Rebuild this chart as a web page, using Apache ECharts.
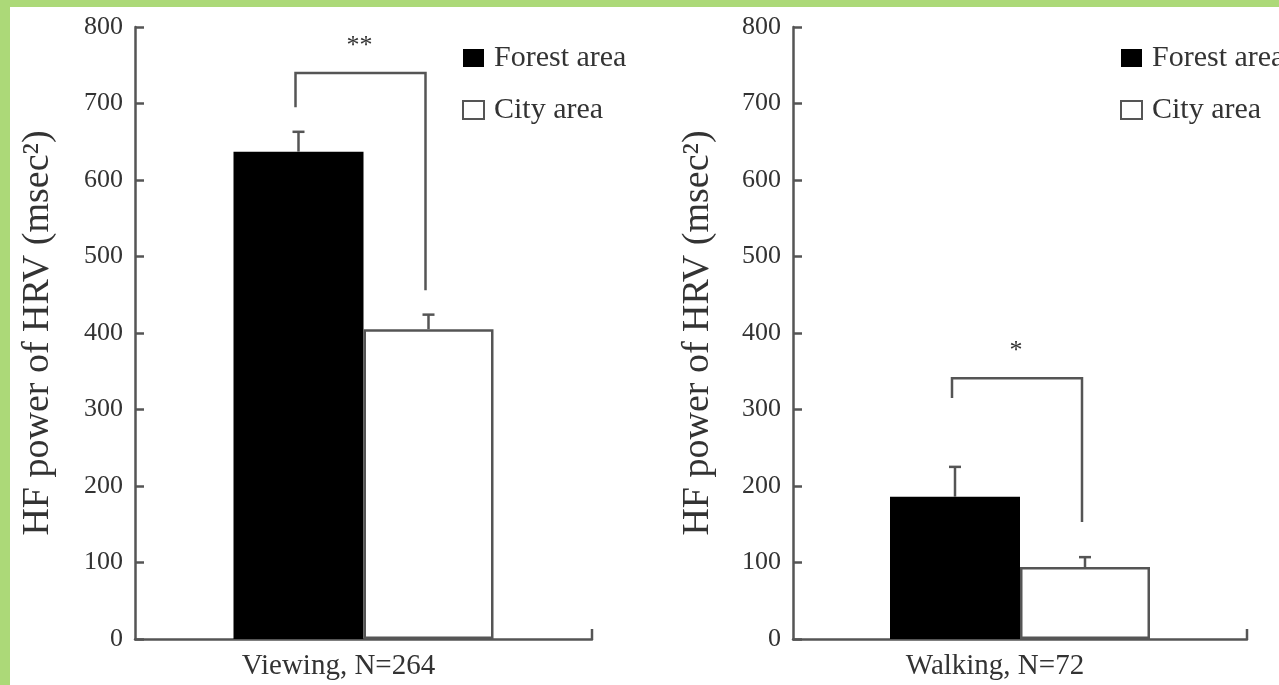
<!DOCTYPE html>
<html><head><meta charset="utf-8">
<script src="https://cdn.jsdelivr.net/npm/echarts@6/dist/echarts.min.js"></script>
<style>html,body{margin:0;padding:0;background:#fff}#c{width:1279px;height:685px}</style>
</head><body><div id="c"></div><script>
// ---- data ----
const panels = ['Viewing, N=264', 'Walking, N=72'];
const seriesNames = ['Forest area', 'City area'];
const forestMean = [637, 186];
const forestErr = [26, 39];
const cityMean = [405, 94];
const cityErr = [19, 13];
const bracketTop = [740, 341];
const bracketLeftEnd = [695, 315];
const bracketRightEnd = [456, 153];
const stars = ['**', '*'];
const yMin = 0, yMax = 800, yStep = 100;
const yTitle = 'HF power of HRV (msec\u00B2)';

// ---- styles ----
const FONT = 'Liberation Serif';
const INK = '#555';
const TXT = '#333';
const BAR_W = 130;

const grids = [
  {left: 135, top: 27, width: 457, height: 612},
  {left: 793, top: 27, width: 454, height: 612}
];
const legendLeft = [457, 1115];
const titleGap = [78, 76];

const xAxes = [], yAxes = [], series = [], legends = [];
panels.forEach((p, i) => {
  xAxes.push({
    type: 'category', gridIndex: i, data: [p], boundaryGap: true,
    axisLine: {lineStyle: {color: INK, width: 2.5}},
    axisTick: {inside: true, length: 10, lineStyle: {color: INK, width: 2.5}},
    axisLabel: {fontFamily: FONT, fontSize: 29, color: TXT, margin: 13, padding: [0, 50, 0, 0]},
    splitLine: {show: false}
  });
  yAxes.push({
    type: 'value', gridIndex: i, min: yMin, max: yMax, interval: yStep,
    name: yTitle, nameLocation: 'middle', nameGap: titleGap[i], nameRotate: 90,
    nameTextStyle: {fontFamily: FONT, fontSize: 38, color: TXT},
    axisLine: {show: true, lineStyle: {color: INK, width: 2.5}},
    axisTick: {show: true, inside: true, length: 9, lineStyle: {color: INK, width: 2.5}},
    axisLabel: {fontFamily: FONT, fontSize: 26, color: TXT, margin: 12},
    splitLine: {show: false}
  });
  series.push({
    name: seriesNames[0], type: 'bar', xAxisIndex: i, yAxisIndex: i,
    data: [forestMean[i]], barWidth: BAR_W, barGap: '0%',
    itemStyle: {color: '#000', borderColor: '#000', borderWidth: 0}
  });
  series.push({
    name: seriesNames[1], type: 'bar', xAxisIndex: i, yAxisIndex: i,
    data: [cityMean[i]], barWidth: BAR_W, barGap: '0%',
    itemStyle: {color: '#fff', borderColor: INK, borderWidth: 2.5}
  });
  series.push({
    type: 'custom', xAxisIndex: i, yAxisIndex: i, silent: true, z: 5,
    data: [[0, forestMean[i], forestErr[i], -1], [0, cityMean[i], cityErr[i], 1]],
    encode: {x: 0, y: 1},
    renderItem: function (params, api) {
      const side = api.value(3);
      const c = api.coord([api.value(0), api.value(1)]);
      const t = api.coord([api.value(0), api.value(1) + api.value(2)]);
      const x = c[0] + side * BAR_W / 2;
      const cs = params.coordSys;
      const xe = cs.x + cs.width, yb = cs.y + cs.height;
      const children = [
        {type: 'line', shape: {x1: x, y1: c[1], x2: x, y2: t[1]}, style: {stroke: INK, lineWidth: 2.5}},
        {type: 'line', shape: {x1: x - 6, y1: t[1], x2: x + 6, y2: t[1]}, style: {stroke: INK, lineWidth: 2.5}}
      ];
      if (params.dataIndex === 1) {
        // end tick at right end of x axis
        children.push({type: 'line', shape: {x1: xe, y1: yb, x2: xe, y2: yb - 10}, style: {stroke: INK, lineWidth: 2.5}});
      }
      return {type: 'group', children: children};
    }
  });
  const star = stars[i];
  series.push({
    type: 'custom', xAxisIndex: i, yAxisIndex: i, silent: true, z: 5,
    data: [[0, bracketTop[i], bracketLeftEnd[i], bracketRightEnd[i]]],
    encode: {x: 0, y: 1},
    renderItem: function (params, api) {
      const c = api.coord([api.value(0), api.value(1)]);
      const l = api.coord([api.value(0), api.value(2)]);
      const r = api.coord([api.value(0), api.value(3)]);
      const xl = c[0] - BAR_W / 2 - 3, xr = c[0] + BAR_W / 2 - 3;
      return {type: 'group', children: [
        {type: 'polyline', shape: {points: [[xl, l[1]], [xl, c[1]], [xr, c[1]], [xr, r[1]]]},
          style: {stroke: INK, lineWidth: 2.5, fill: 'none'}},
        {type: 'text', x: c[0] - 4, y: c[1] - 27,
          style: {text: star, fontFamily: FONT, fontSize: 26, fill: TXT, align: 'center', verticalAlign: 'middle'}}
      ]};
    }
  });
  legends.push({
    data: seriesNames, left: legendLeft[i], top: 38, orient: 'vertical',
    icon: 'rect', itemWidth: 21, itemHeight: 18, itemGap: 22, selectedMode: false,
    textStyle: {fontFamily: FONT, fontSize: 30, color: TXT, lineHeight: 30, padding: [0, 0, 0, 5]}
  });
});

const chart = echarts.init(document.getElementById('c'), null, {renderer: 'canvas'});
chart.setOption({
  backgroundColor: '#fff',
  animation: false,
  grid: grids,
  xAxis: xAxes,
  yAxis: yAxes,
  legend: legends,
  series: series,
  graphic: [
    {type: 'rect', shape: {x: 0, y: 0, width: 1279, height: 7}, style: {fill: '#acd978'}, z: 100},
    {type: 'rect', shape: {x: 0, y: 0, width: 10, height: 685}, style: {fill: '#acd978'}, z: 100}
  ]
});
</script></body></html>
